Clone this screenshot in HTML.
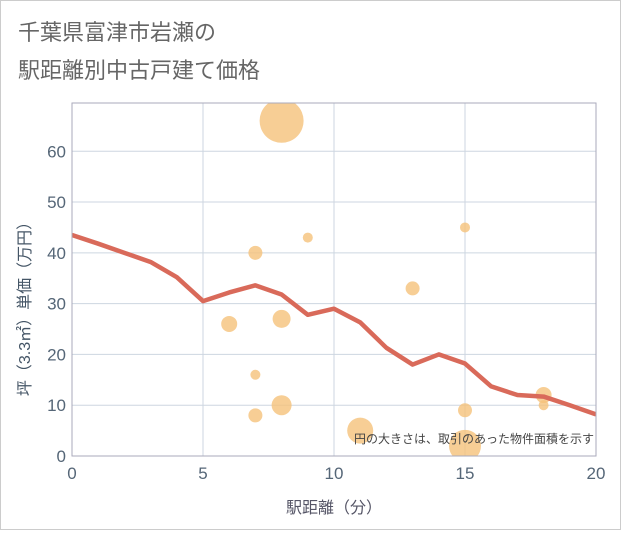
<!DOCTYPE html>
<html><head><meta charset="utf-8"><style>
body{margin:0;background:#fff;}
svg text{font-family:"Liberation Sans","Noto Sans CJK JP",sans-serif;}
</style></head><body>
<svg width="621" height="530">
<rect x="0.5" y="0.5" width="620" height="529" fill="#fff" stroke="#ccc"/>
<text x="18" y="40" font-size="22" fill="#666">千葉県富津市岩瀬の</text>
<text x="18" y="78" font-size="22" fill="#666">駅距離別中古戸建て価格</text>
<defs><clipPath id="pc"><rect x="72" y="103" width="524" height="353"/></clipPath></defs>
<g id="grid"></g>
<g id="marks" clip-path="url(#pc)"></g>
<rect x="72" y="103" width="524" height="353" fill="none" stroke="#aab"/>
<g id="ticks"></g>
<text x="594" y="443" font-size="12" fill="#444" text-anchor="end">円の大きさは、取引のあった物件面積を示す</text>
<text x="334" y="513" font-size="16" fill="#556" text-anchor="middle">駅距離（分）</text>
<text transform="translate(30,305) rotate(-90)" font-size="16" fill="#456" text-anchor="middle">坪（3.3㎡）単価（万円）</text>
</svg>
<script>
const xTicks=[0,5,10,15,20];
const yTicks=[0,10,20,30,40,50,60];
const lineX=[0,1,2,3,4,5,6,7,8,9,10,11,12,13,14,15,16,17,18,19,20];
const lineY=[43.5,41.8,40,38.2,35.2,30.5,32.2,33.6,31.8,27.8,29,26.3,21.3,18,20,18.2,13.7,12,11.7,10,8.2];
const bubX=[8,7,9,15,6,8,13,7,7,8,11,15,15,18,18];
const bubY=[66,40,43,45,26,27,33,16,8,10,5,9,2,12,10];
const bubR=[22,7,5,5,8,9,7,5,7,10,13,7,16,8,5];
const NS="http://www.w3.org/2000/svg";
const sx=v=>72+v*524/20, sy=v=>456-v*353/69.5;
function mk(t,a,p){const e=document.createElementNS(NS,t);for(const k in a)e.setAttribute(k,a[k]);p.appendChild(e);return e;}
const g=document.getElementById('grid'),tk=document.getElementById('ticks'),m=document.getElementById('marks');
xTicks.forEach(v=>{const l=mk('line',{x1:sx(v),x2:sx(v),y1:103,y2:456,stroke:'#cdd6e0'},g);

const t=mk('text',{x:sx(v),y:479,'font-size':17,fill:'#567','text-anchor':'middle'},tk);t.textContent=v;
});
yTicks.forEach(v=>{const l=mk('line',{x1:72,x2:596,y1:sy(v),y2:sy(v),stroke:'#cdd6e0'},g);

const t=mk('text',{x:66,y:sy(v)+6,'font-size':17,fill:'#567','text-anchor':'end'},tk);t.textContent=v;
});
bubX.forEach((x,i)=>{const c=mk('circle',{cx:sx(x),cy:sy(bubY[i]),r:bubR[i],fill:'#f5c27a','fill-opacity':0.8},m);
});
const p=mk('polyline',{points:lineX.map((x,i)=>sx(x)+','+sy(lineY[i])).join(' '),fill:'none',stroke:'#d96a5a','stroke-width':4.5,'stroke-linejoin':'round'},m);

</script>
</body></html>
